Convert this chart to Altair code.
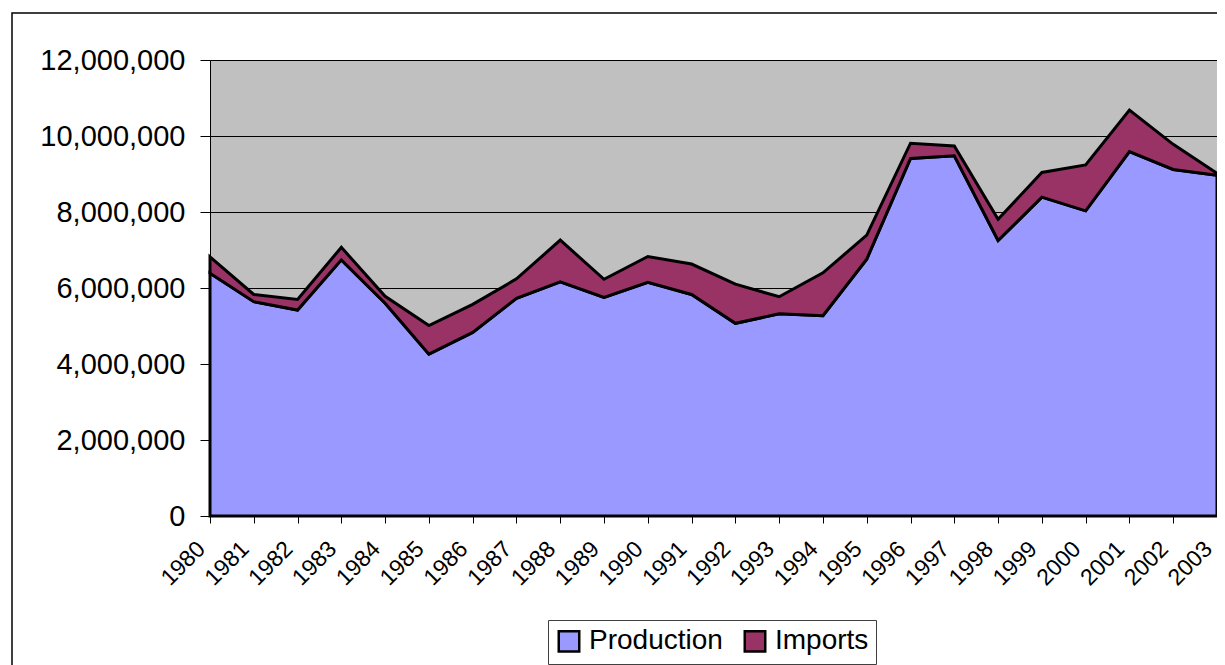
import altair as alt
import pandas as pd

years = list(range(1980, 2004))
production = [6390000, 5640000, 5420000, 6740000, 5600000, 4260000, 4830000, 5730000,
              6160000, 5750000, 6150000, 5830000, 5070000, 5320000, 5270000, 6760000,
              9410000, 9480000, 7250000, 8390000, 8030000, 9590000, 9120000, 8970000]
imports = [430000, 190000, 280000, 330000, 180000, 750000, 740000, 510000,
           1100000, 480000, 680000, 800000, 1030000, 450000, 1130000, 630000,
           400000, 260000, 560000, 650000, 1210000, 1090000, 660000, 50000]
series_names = ["Production", "Imports"]
series_colors = ["#9999FF", "#993366"]
y_ticks = [0, 2000000, 4000000, 6000000, 8000000, 10000000, 12000000]

rows = []
for i, yr in enumerate(years):
    rows.append({"year": yr, "series": "Production", "ord": 0, "value": production[i]})
    rows.append({"year": yr, "series": "Imports", "ord": 1, "value": imports[i]})
df = pd.DataFrame(rows)

area = alt.Chart(df).mark_area(stroke="black", strokeWidth=3, opacity=1).encode(
    x=alt.X("year:Q",
            scale=alt.Scale(domain=[1980, 2003], nice=False, zero=False),
            axis=alt.Axis(values=years, format="d", title=None, grid=False,
                          labelAngle=-45, labelAlign="right", labelBaseline="middle",
                          labelFontSize=23, labelPadding=22, labelOffset=-9,
                          tickSize=7, labelFlush=False, labelOverlap=False)),
    y=alt.Y("value:Q", stack="zero",
            scale=alt.Scale(domain=[0, 12000000], nice=False),
            axis=alt.Axis(values=y_ticks, format=",d", title=None, grid=True,
                          gridColor="black", gridWidth=1, gridOpacity=1,
                          labelFontSize=29, labelPadding=15, tickSize=10)),
    fill=alt.Fill("series:N",
                  scale=alt.Scale(domain=series_names, range=series_colors),
                  legend=alt.Legend(title=None, orient="none", legendX=338, legendY=560,
                                    direction="horizontal", labelFontSize=28,
                                    labelFont="Liberation Sans", labelColor="black",
                                    symbolType="square", symbolSize=420,
                                    symbolStrokeColor="black", symbolStrokeWidth=2.5,
                                    labelOffset=6, columnPadding=16, padding=7,
                                    strokeColor="#404040", fillColor="white")),
    order=alt.Order("ord:Q", sort="ascending"),
)

frame = alt.Chart(pd.DataFrame({"a": [0]})).mark_rect(
    fillOpacity=0, stroke="black", strokeWidth=1.5
).encode(x=alt.value(-198), x2=alt.value(1040), y=alt.value(-47), y2=alt.value(640))

chart = alt.layer(area, frame).properties(
    width=1007, height=456,
    autosize=alt.AutoSizeParams(type="none"),
    padding={"left": 202, "top": 52, "right": 0, "bottom": 149},
    background="white",
).configure_view(
    fill="#C0C0C0", stroke="#808080", strokeWidth=1
).configure_axis(
    labelFont="Liberation Sans", labelColor="black", domainColor="black",
    tickColor="black", domainWidth=1, tickWidth=1
)

chart.save("out.html", embed_options={"renderer": "svg", "actions": False})
